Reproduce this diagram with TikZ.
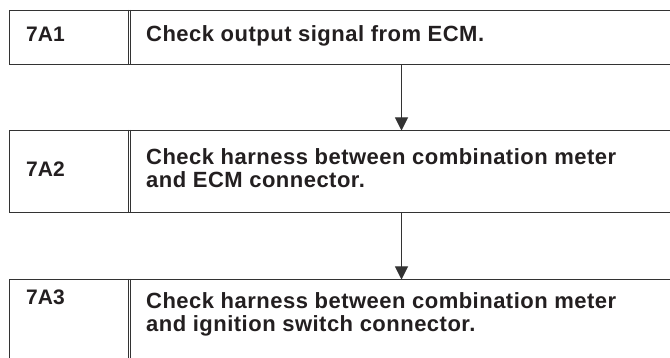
\documentclass[tikz,border=0pt]{standalone}
\usepackage{fontspec}
\setmainfont{Liberation Sans}
\newfontfamily\mainbold[LetterSpace=2.2]{Liberation Sans}
\usetikzlibrary{arrows.meta}
\definecolor{ink}{HTML}{231F20}
\definecolor{rule}{HTML}{333333}
\tikzset{
  stepbox/.style={draw=rule, line width=1.4pt, rectangle, minimum width=681pt, anchor=north west, inner sep=0pt},
  divider/.style={draw=rule, line width=1pt},
  lbl/.style={anchor=base west, inner sep=0pt, text=ink, font=\fontsize{21}{23}\bfseries\selectfont},
  txt/.style={anchor=base west, inner sep=0pt, text=ink, align=left, font=\mainbold\fontsize{22}{22.5}\bfseries\selectfont},
  arr/.style={draw=rule, line width=1pt, -{Triangle[width=13pt,length=13pt]}, shorten >=-0.5pt}
}
\begin{document}
\begin{tikzpicture}[x=1pt,y=-1pt]
\useasboundingbox[fill=white] (0,0) rectangle (670,358);
% boxes
\node[stepbox, minimum height=54pt] (b1) at (9,10) {};
\node[stepbox, minimum height=82pt] (b2) at (9,130) {};
\node[stepbox, minimum height=82pt] (b3) at (9,279) {};
% dividers (double lines)
\foreach \b in {b1,b2,b3}{
  \draw[divider] (\b.north west) ++(119.2,0) coordinate (d1) (d1 |- \b.north) -- (d1 |- \b.south);
  \draw[divider] (\b.north west) ++(121.2,0) coordinate (d2) (d2 |- \b.north) -- (d2 |- \b.south);
}
% labels
\node[lbl] (l1) at (26,42) {7A1};
\node[txt] (t1) at (146,42) {Check output signal from ECM.};
\node[lbl] (l2) at (26,176.5) {7A2};
\node[txt] (t2) at (146,187.5) {Check harness between combination meter\\and ECM connector.};
\node[lbl] (l3) at (26,305) {7A3};
\node[txt] (t3) at (146,331) {Check harness between combination meter\\and ignition switch connector.};
% arrows
\coordinate (ax) at (401.5,0);
\draw[arr] (b1.south -| ax) -- (b2.north -| ax);
\draw[arr] (b2.south -| ax) -- (b3.north -| ax);
\end{tikzpicture}
\end{document}
